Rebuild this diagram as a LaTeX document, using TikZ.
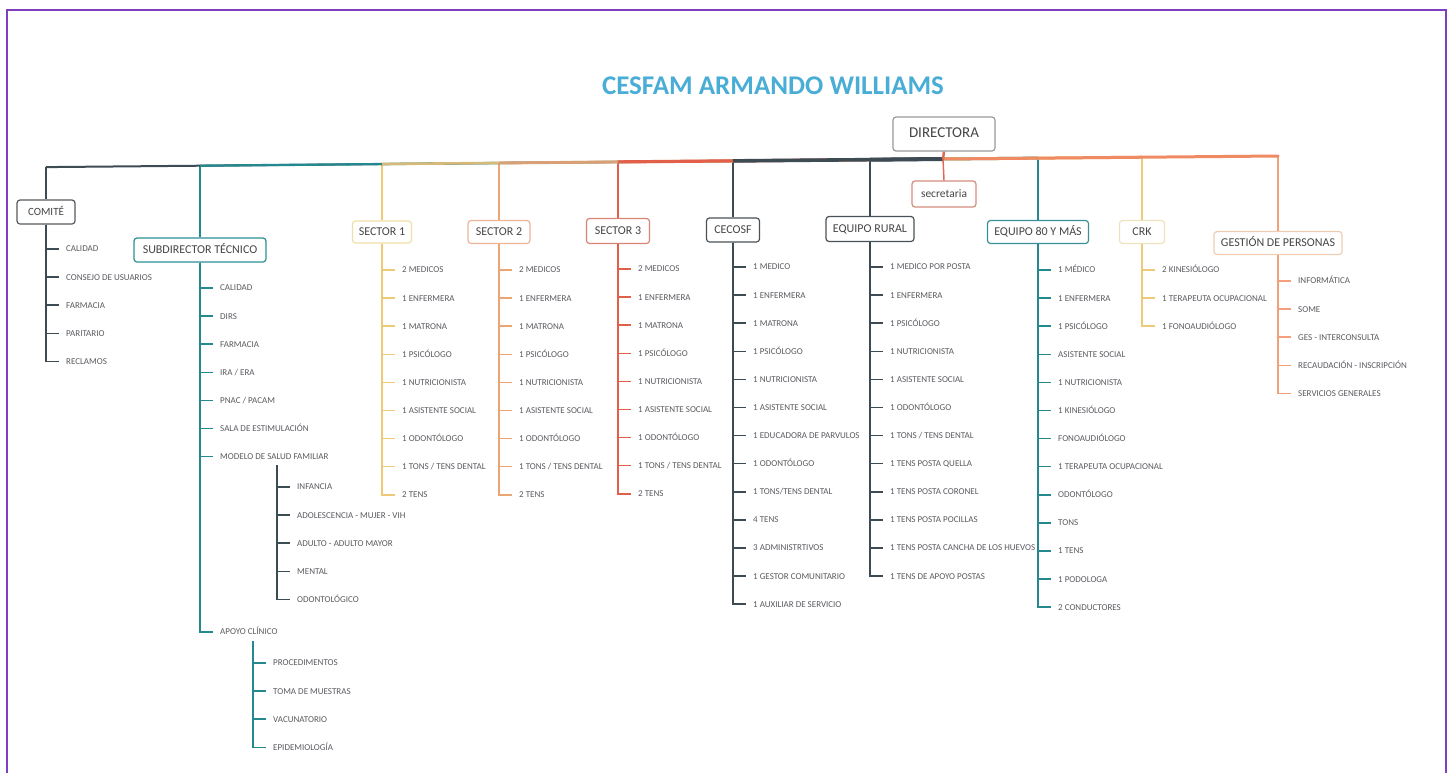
\documentclass[tikz,border=0pt]{standalone}
\usepackage{fontspec}
\setmainfont{Carlito}
\definecolor{cDark}{HTML}{3D4B55}
\definecolor{cTeal}{HTML}{23898F}
\definecolor{cYel}{HTML}{EDC978}
\definecolor{cS2}{HTML}{E9A574}
\definecolor{cS3}{HTML}{E2604A}
\definecolor{cGes}{HTML}{F2A07A}
\definecolor{cRight}{HTML}{F08A62}
\definecolor{cSec}{HTML}{E06A58}
\definecolor{bCom}{HTML}{555B60}
\definecolor{bSub}{HTML}{2E8E96}
\definecolor{bS1}{HTML}{F1DFA8}
\definecolor{bS2}{HTML}{EDB49A}
\definecolor{bS3}{HTML}{D78474}
\definecolor{bCec}{HTML}{4A5258}
\definecolor{bE80}{HTML}{3A9096}
\definecolor{bCrk}{HTML}{F0E2BC}
\definecolor{bGes}{HTML}{F0CDB0}
\definecolor{bDir}{HTML}{9A9A9A}
\definecolor{bSec}{HTML}{D48C7C}
\definecolor{boxtext}{HTML}{464646}
\definecolor{itemgray}{HTML}{5A5A60}
\definecolor{titleblue}{HTML}{4AADD6}
\definecolor{frame}{HTML}{7E3FC0}
\newcommand\orgitems[6]{%
  \foreach \t [count=\i] in {#6} {
    \node[item] (#1-\i) at (#3+13, {#4+28.1*(\i-1)}) {\t};
    \draw[ln, #5] (#2) |- (#1-\i.west);
  }}
\begin{document}
\begin{tikzpicture}[x=1pt,y=-1pt,
  orgbox/.style={draw, rounded corners=3pt, fill=white, line width=1.2pt, text=boxtext,
    font=\fontsize{12}{14}\selectfont, inner sep=0pt, text height=1.38ex, text depth=0pt},
  item/.style={anchor=west, inner xsep=7pt, inner ysep=1pt, text height=5.8pt, text depth=0pt,
    text=itemgray, font=\fontsize{9}{10}\selectfont},
  ln/.style={line width=1.5pt}]
\useasboundingbox (0,0) rectangle (1449,772);
\draw[frame, line width=2.5pt] (7,790) -- (7,10) -- (1446,10) -- (1446,790);

\node[font=\bfseries\fontsize{27}{30}\selectfont, text=titleblue] (title) at (773,86) {CESFAM ARMANDO WILLIAMS};

% boxes
\node[orgbox, draw=bDir, minimum width=102, minimum height=34, font=\fontsize{15}{17}\selectfont] (dir) at (944,134) {DIRECTORA};
\node[orgbox, draw=bSec, minimum width=64, minimum height=26, font=\fontsize{11.5}{13}\selectfont] (sec) at (944,194) {secretaria};
\node[orgbox, draw=bCom, minimum width=58, minimum height=24, font=\fontsize{11}{13}\selectfont] (com) at (46,212) {COMITÉ};
\node[orgbox, draw=bSub, minimum width=132, minimum height=24] (sub) at (200,250) {SUBDIRECTOR TÉCNICO};
\node[orgbox, draw=bS1, minimum width=59, minimum height=22] (s1) at (382,232) {SECTOR 1};
\node[orgbox, draw=bS2, minimum width=62, minimum height=23] (s2) at (499,232) {SECTOR 2};
\node[orgbox, draw=bS3, minimum width=63, minimum height=25] (s3) at (618,231) {SECTOR 3};
\node[orgbox, draw=bCec, minimum width=53, minimum height=24] (cec) at (733,230) {CECOSF};
\node[orgbox, draw=bCec, minimum width=88, minimum height=25] (rur) at (870,229) {EQUIPO RURAL};
\node[orgbox, draw=bE80, minimum width=101, minimum height=23] (e80) at (1038,232) {EQUIPO 80 Y MÁS};
\node[orgbox, draw=bCrk, minimum width=45, minimum height=23] (crk) at (1142,232) {CRK};
\node[orgbox, draw=bGes, minimum width=128, minimum height=23] (ges) at (1278,243) {GESTIÓN DE PERSONAS};

% bus junction points
\coordinate (dj) at (943,159);
\coordinate (jCom) at (46,167.1);
\coordinate (jSub) at (200,165.7);
\coordinate (jS1) at (382,164.0);
\coordinate (jS2) at (499,163.0);
\coordinate (jS3) at (618,161.9);
\coordinate (jCec) at (733,160.9);
\coordinate (jRur) at (870,159.7);
\coordinate (jE80) at (1038,158.1);
\coordinate (jCrk) at (1142,157.2);
\coordinate (jGes) at (1278,156.0);

% drops
\draw[ln, cDark] (jCom) -- (com.north);
\draw[ln, cTeal] (jSub) -- (sub.north);
\draw[ln, cYel] (jS1) -- (s1.north);
\draw[ln, cS2] (jS2) -- (s2.north);
\draw[ln, cS3] (jS3) -- (s3.north);
\draw[ln, cDark] (jCec) -- (cec.north);
\draw[ln, cDark] (jRur) -- (rur.north);
\draw[ln, cTeal] (jE80) -- (e80.north);
\draw[ln, cYel] (jCrk) -- (crk.north);
\draw[ln, cGes] (jGes) -- (ges.north);

% bus (right, then left from far to near)
\draw[cTeal, line width=3pt] (dj) -- (jE80);
\draw[cYel, line width=3pt] (dj) -- (jCrk);
\draw[cRight, line width=3pt, line cap=round] (dj) -- (jGes);
\draw[cDark, line width=2pt] (dj) -- (jCom);
\draw[cTeal, line width=2.3pt] (dj) -- (jSub);
\draw[cYel!80!gray, line width=2.6pt] (dj) -- (jS1);
\draw[cS2!85!gray, line width=2.9pt] (dj) -- (jS2);
\draw[cS3, line width=3.2pt] (dj) -- (jS3);
\draw[cDark, line width=3.6pt] (dj) -- (jCec);
\draw[cDark, line width=4pt] (dj) -- (jRur);
\draw[cSec, line width=2.5pt] (dir.south) -- (dj);
\draw[cSec, ln] (dj) -- (sec.north);

% item lists
\orgitems{ci}{com.south}{46}{249}{cDark}{CALIDAD,CONSEJO DE USUARIOS,FARMACIA,PARITARIO,RECLAMOS}
\orgitems{si}{sub.south}{200}{288}{cTeal}{CALIDAD,DIRS,FARMACIA,IRA / ERA,PNAC / PACAM,SALA DE ESTIMULACIÓN,MODELO DE SALUD FAMILIAR}
\node[item] (apo) at (213,632) {APOYO CLÍNICO};
\draw[ln, cTeal] (sub.south) |- (apo.west);
\coordinate (mv) at (277,465);
\orgitems{mi}{mv}{277}{487}{cDark}{INFANCIA,ADOLESCENCIA - MUJER - VIH,ADULTO - ADULTO MAYOR,MENTAL,ODONTOLÓGICO}
\coordinate (av) at (253,641);
\orgitems{ai}{av}{253}{663}{cTeal}{PROCEDIMENTOS,TOMA DE MUESTRAS,VACUNATORIO,EPIDEMIOLOGÍA}
\orgitems{ai1}{s1.south}{382}{270}{cYel}{2 MEDICOS,1 ENFERMERA,1 MATRONA,1 PSICÓLOGO,1 NUTRICIONISTA,1 ASISTENTE SOCIAL,1 ODONTÓLOGO,1 TONS / TENS DENTAL,2 TENS}
\orgitems{ai2}{s2.south}{499}{270}{cS2}{2 MEDICOS,1 ENFERMERA,1 MATRONA,1 PSICÓLOGO,1 NUTRICIONISTA,1 ASISTENTE SOCIAL,1 ODONTÓLOGO,1 TONS / TENS DENTAL,2 TENS}
\orgitems{ai3}{s3.south}{618}{269}{cS3}{2 MEDICOS,1 ENFERMERA,1 MATRONA,1 PSICÓLOGO,1 NUTRICIONISTA,1 ASISTENTE SOCIAL,1 ODONTÓLOGO,1 TONS / TENS DENTAL,2 TENS}
\orgitems{ce}{cec.south}{733}{267}{cDark}{1 MEDICO,1 ENFERMERA,1 MATRONA,1 PSICÓLOGO,1 NUTRICIONISTA,1 ASISTENTE SOCIAL,1 EDUCADORA DE PARVULOS,1 ODONTÓLOGO,1 TONS/TENS DENTAL,4 TENS,3 ADMINISTRTIVOS,1 GESTOR COMUNITARIO,1 AUXILIAR DE SERVICIO}
\orgitems{ru}{rur.south}{870}{267}{cDark}{1 MEDICO POR POSTA,1 ENFERMERA,1 PSICÓLOGO,1 NUTRICIONISTA,1 ASISTENTE SOCIAL,1 ODONTÓLOGO,1 TONS / TENS DENTAL,1 TENS POSTA QUELLA,1 TENS POSTA CORONEL,1 TENS POSTA POCILLAS,1 TENS POSTA CANCHA DE LOS HUEVOS,1 TENS DE APOYO POSTAS}
\orgitems{eq}{e80.south}{1038}{270}{cTeal}{1 MÉDICO,1 ENFERMERA,1 PSICÓLOGO,ASISTENTE SOCIAL,1 NUTRICIONISTA,1 KINESIÓLOGO,FONOAUDIÓLOGO,1 TERAPEUTA OCUPACIONAL,ODONTÓLOGO,TONS,1 TENS,1 PODOLOGA,2 CONDUCTORES}
\orgitems{ck}{crk.south}{1142}{270}{cYel}{2 KINESIÓLOGO,1 TERAPEUTA OCUPACIONAL,1 FONOAUDIÓLOGO}
\orgitems{gp}{ges.south}{1278}{281}{cGes}{INFORMÁTICA,SOME,GES - INTERCONSULTA,RECAUDACIÓN - INSCRIPCIÓN,SERVICIOS GENERALES}
\end{tikzpicture}
\end{document}
